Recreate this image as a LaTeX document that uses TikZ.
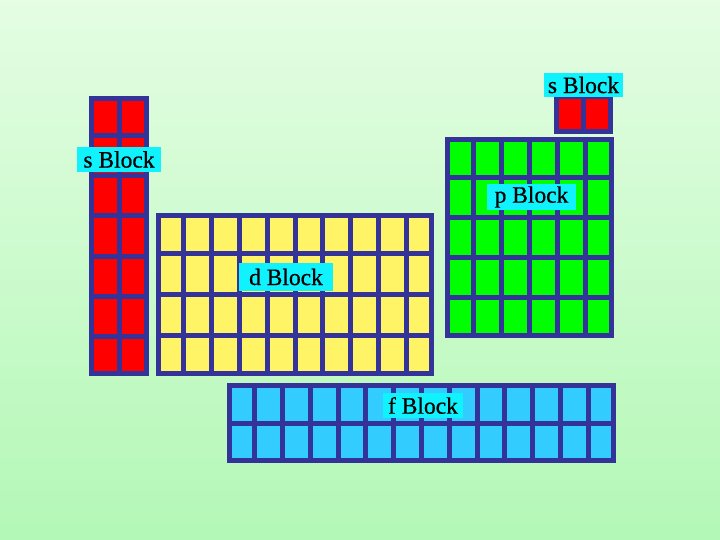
\documentclass[tikz,border=0pt]{standalone}
\usepackage{fontspec}
\setmainfont{Liberation Serif}
\newfontfamily\lblfont{Liberation Serif}[FakeBold=0.6]
\definecolor{frame}{HTML}{333399}
\definecolor{sred}{HTML}{FF0000}
\definecolor{pgreen}{HTML}{00FF00}
\definecolor{dyellow}{HTML}{FFF366}
\definecolor{fblue}{HTML}{33CCFF}
\definecolor{labelbg}{HTML}{11F2FF}
\definecolor{bgtop}{HTML}{E4FDE3}
\definecolor{bgbot}{HTML}{B3F8B6}
\newcommand{\blockgrid}[7]{%
  \fill[#7] (#1,#2) rectangle (#3,#4);
  \draw[gridline] ({#1+2.5},{#2+2.5}) rectangle ({#3-2.5},{#4-2.5});
  \foreach \i in {1,...,#5} {\ifnum\i<#5 \draw[gridline] ({#1+(#3-#1)*\i/#5},#2) -- ({#1+(#3-#1)*\i/#5},#4);\fi}
  \foreach \j in {1,...,#6} {\ifnum\j<#6 \draw[gridline] (#1,{#2+(#4-#2)*\j/#6}) -- (#3,{#2+(#4-#2)*\j/#6});\fi}
}
\tikzset{
  gridline/.style={draw=frame, line width=5pt},
  blocklabel/.style={fill=labelbg, text=black, inner sep=0pt, font=\lblfont\fontsize{23.5}{25}\selectfont}
}
\begin{document}
\begin{tikzpicture}[x=1pt,y=-1pt]
\useasboundingbox (0,0) rectangle (720,540);
\shade[top color=bgtop, bottom color=bgbot] (0,0) rectangle (720,540);
% s block (left)
\blockgrid{89}{96}{149}{376}{2}{7}{sred}
% s block (right)
\blockgrid{554}{94}{613}{134}{2}{1}{sred}
% p block
\blockgrid{445}{137}{614}{338}{6}{5}{pgreen}
% d block
\blockgrid{156}{213}{434}{376}{10}{4}{dyellow}
% f block
\blockgrid{227}{383}{616}{463}{14}{2}{fblue}
% labels
\node[blocklabel, minimum width=84pt, minimum height=25pt] (sleft) at (119,159.5) {s Block};
\node[blocklabel, minimum width=79pt, minimum height=24pt] (sright) at (583.5,85) {s Block};
\node[blocklabel, minimum width=89pt, minimum height=26pt] (plabel) at (531.5,197) {p Block};
\node[blocklabel, minimum width=94pt, minimum height=28pt] (dlabel) at (286,277) {d Block};
\node[blocklabel, minimum width=80pt, minimum height=25pt] (flabel) at (423,405.5) {f Block};
\end{tikzpicture}
\end{document}
